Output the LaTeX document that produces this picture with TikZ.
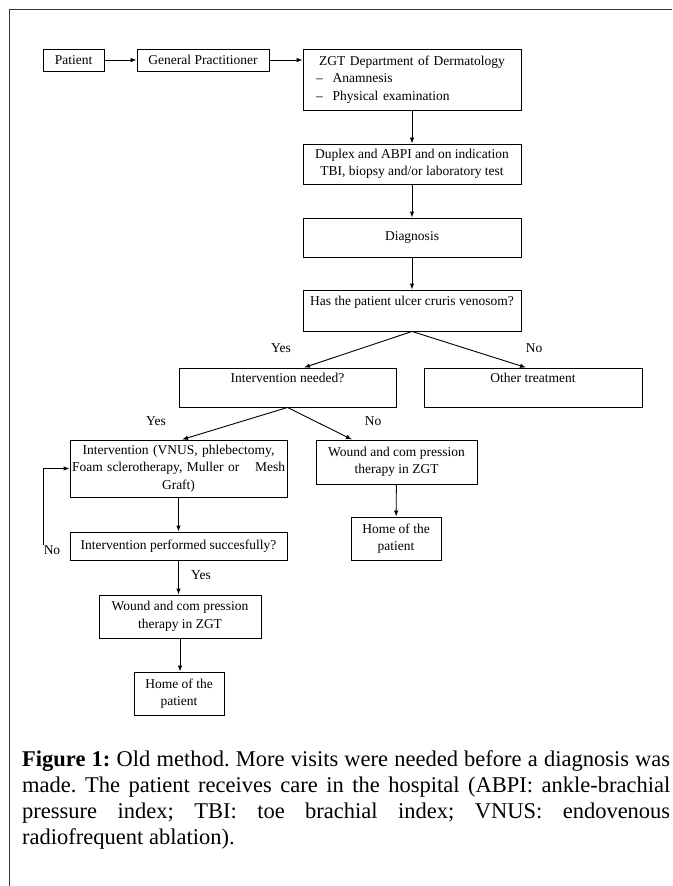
\documentclass[tikz,border=0pt]{standalone}
\usepackage{fontspec}
\setmainfont{Liberation Serif}
\usetikzlibrary{arrows.meta}
\frenchspacing
\tikzset{
  box/.style={draw, line width=0.9pt, inner sep=1pt, align=center,
    font=\fontsize{13.5}{17.5}\selectfont},
  arr/.style={line width=0.9pt, -{Latex[length=6pt,width=4.5pt]}},
  lbl/.style={inner sep=0pt, font=\fontsize{13.5}{17.5}\selectfont},
}
\begin{document}
\begin{tikzpicture}[x=1pt, y=-1pt]
  \useasboundingbox (0,0) rectangle (672,886);
  \draw[line width=0.8pt, black!80] (672,9.5) -- (9.5,9.5) -- (9.5,886);

  \node[box, minimum width=61, minimum height=22] (patient) at (73.5,60) {Patient};
  \node[box, minimum width=132, minimum height=22] (gp) at (203,60) {General Practitioner};
  \node[box, minimum width=218, minimum height=61, text width=214, align=left] (zgt) at (412,79.5)
    {\centering ZGT Department of Dermatology\par\raggedright
     \hspace*{11pt}--\hspace{10pt}Anamnesis\\
     \hspace*{11pt}--\hspace{10pt}Physical examination};
  \node[box, minimum width=218, minimum height=40] (duplex) at (412,164)
    {Duplex and ABPI and on indication\\TBI, biopsy and/or laboratory test};
  \node[box, minimum width=218, minimum height=39] (diagnosis) at (412,237.5) {Diagnosis};
  \node[box, minimum width=218, minimum height=41] (has) at (412,310.5)
    {Has the patient ulcer cruris venosom?\\[1.5pt]\mbox{}};
  \node[box, minimum width=217, minimum height=39] (intneed) at (287.5,387.5)
    {Intervention needed?\\[1.5pt]\mbox{}};
  \node[box, minimum width=218, minimum height=39] (other) at (533,387.5)
    {Other treatment\\[1.5pt]\mbox{}};
  \node[box, minimum width=217, minimum height=57, text width=213] (interv) at (178.5,468.5)
    {Intervention (VNUS, phlebectomy,\\
     \leavevmode\hbox to 213pt{Foam sclerotherapy, Muller or\hfill Mesh}\\Graft)};
  \node[box, minimum width=161, minimum height=44] (wound1) at (396.5,462)
    {Wound and com pression\\therapy in ZGT};
  \node[box, minimum width=90, minimum height=43] (home1) at (396,538.5) {Home of the\\patient};
  \node[box, minimum width=217, minimum height=28] (performed) at (178.5,546)
    {Intervention performed succesfully?};
  \node[box, minimum width=162, minimum height=43] (wound2) at (180,616.5)
    {Wound and com pression\\therapy in ZGT};
  \node[box, minimum width=90, minimum height=43] (home2) at (179,693.5) {Home of the\\patient};

  \node[lbl] (yes1) at (281,348) {Yes};
  \node[lbl] (no1) at (534,348) {No};
  \node[lbl] (yes2) at (156,421) {Yes};
  \node[lbl] (no2) at (373,421) {No};
  \node[lbl] (no3) at (52,550) {No};
  \node[lbl] (yes3) at (201,575) {Yes};
  \coordinate (loopend) at (43.5,545);

  \draw[arr] (patient) -- (gp);
  \draw[arr] (gp.east) -- (gp.east -| zgt.west);
  \draw[arr] (zgt) -- (duplex);
  \draw[arr] (duplex) -- (diagnosis);
  \draw[arr] (diagnosis) -- (has);
  \draw[arr] (has.south) -- ([xshift=16.5]intneed.north);
  \draw[arr] (has.south) -- ([xshift=-7]other.north);
  \draw[arr] (intneed.south) -- ([xshift=3.5]interv.north);
  \draw[arr] (intneed.south) -- ([xshift=-44.5]wound1.north);
  \draw[arr] (interv) -- (performed);
  \draw[arr] (wound1) -- (home1);
  \draw[arr] (performed.south) -- (performed.south |- wound2.north);
  \draw[arr] (wound2.south) -- (wound2.south |- home2.north);
  \draw[arr] (loopend) |- (interv.west);

  \node[anchor=base west, inner sep=0pt, text width=648, align=justify,
    font=\fontsize{22.5}{26.3}\selectfont] (caption) at (22,766)
    {\tolerance=10000 \textbf{Figure 1:} Old method. More visits were needed before a diagnosis was\linebreak
     made. The patient receives care in the hospital (ABPI: ankle-brachial\linebreak
     pressure index; TBI: toe brachial index; VNUS: endovenous\linebreak
     radiofrequent ablation).};
\end{tikzpicture}
\end{document}
